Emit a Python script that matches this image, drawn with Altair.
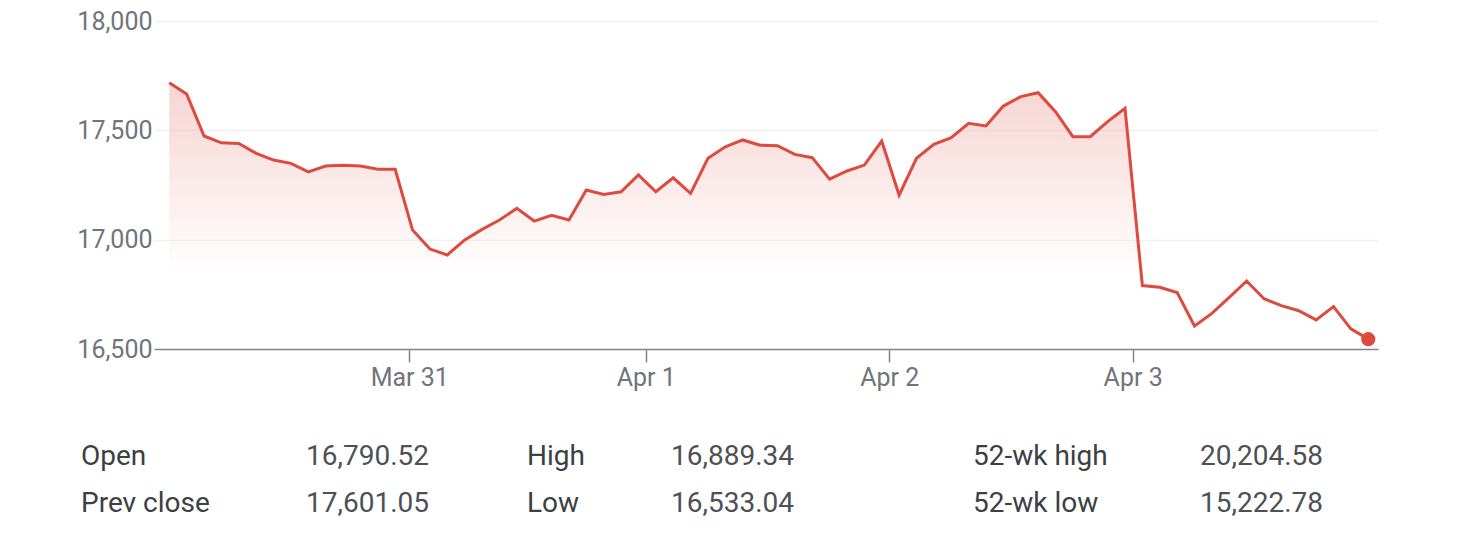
import altair as alt
import pandas as pd

# ---- data ----
prices = [17718, 17666, 17474, 17443, 17440, 17395, 17364, 17349, 17310, 17337,
          17340, 17337, 17322, 17322, 17044, 16957, 16930, 16999, 17047, 17090,
          17143, 17085, 17111, 17090, 17227, 17207, 17219, 17296, 17219, 17283,
          17212, 17372, 17425, 17456, 17432, 17430, 17390, 17375, 17277, 17314,
          17341, 17451, 17204, 17372, 17436, 17466, 17532, 17520, 17611, 17654,
          17672, 17585, 17471, 17471, 17540, 17601, 16790, 16782, 16758, 16605,
          16663, 16736, 16811, 16730, 16698, 16675, 16633, 16694, 16592, 16545]
tick_positions = [13.81, 27.42, 41.43, 55.44]
tick_labels = ["Mar 31", "Apr 1", "Apr 2", "Apr 3"]
y_ticks = [16500, 17000, 17500, 18000]

stat_labels = [["Open", "Prev close"], ["High", "Low"], ["52-wk high", "52-wk low"]]
stat_values = [["16,790.52", "17,601.05"], ["16,889.34", "16,533.04"], ["20,204.58", "15,222.78"]]

df = pd.DataFrame({"i": list(range(len(prices))), "price": prices})

RED = "#dc4b3d"
FONT = "Roboto"

label_expr = " : ".join(
    f"abs(datum.value - {p}) < 0.01 ? '{t}'" for p, t in zip(tick_positions, tick_labels)
) + " : ''"

x_enc = alt.X(
    "i:Q",
    scale=alt.Scale(domain=[-0.88, 69.56], nice=False, zero=False),
    axis=alt.Axis(
        values=tick_positions, labelExpr=label_expr, title=None, grid=False,
        domain=True, domainColor="#80868b", domainWidth=1.5,
        ticks=True, tickColor="#80868b", tickWidth=1.5, tickSize=13,
        labelPadding=3, labelFont=FONT, labelFontSize=25, labelColor="#70757a",
        labelFlush=False,
    ),
)
y_scale = alt.Scale(domain=[16500, 18000], nice=False, zero=False)
y_enc = alt.Y(
    "price:Q",
    scale=y_scale,
    axis=alt.Axis(
        values=y_ticks, format=",d", title=None, grid=True, gridColor="#f1f1f1",
        gridWidth=1.5, domain=False, ticks=False, labelPadding=2,
        labelFont=FONT, labelFontSize=25, labelColor="#70757a",
    ),
)

area = alt.Chart(df).mark_area(
    color=alt.Gradient(
        gradient="linear",
        stops=[
            alt.GradientStop(color="rgba(222,90,80,0.26)", offset=0),
            alt.GradientStop(color="rgba(222,90,80,0.0)", offset=0.72),
        ],
        x1=0, x2=0, y1=0, y2=1,
    )
).encode(x=x_enc, y=y_enc, y2=alt.datum(16500))

line = alt.Chart(df).mark_line(color=RED, strokeWidth=3).encode(
    x=alt.X("i:Q"), y=alt.Y("price:Q")
)

dot = alt.Chart(df).transform_filter(
    alt.datum.i == len(prices) - 1
).mark_circle(color=RED, size=200, opacity=1).encode(
    x=alt.X("i:Q"), y=alt.Y("price:Q")
)

base = alt.layer(area, line, dot)

row_scale = alt.Scale(type="point", domain=[0, 1], range=[444, 491], padding=0)
label_x = [-73, 373, 819]
value_x = [275, 640, 1169]

text_layers = []
for c in range(3):
    tdf = pd.DataFrame({"row": [0, 1], "label": stat_labels[c], "value": stat_values[c]})
    text_layers.append(
        alt.Chart(tdf).mark_text(
            align="left", baseline="alphabetic", font=FONT, fontSize=28, color="#3c4043"
        ).encode(x=alt.value(label_x[c]), y=alt.Y("row:O", scale=row_scale, axis=None), text="label:N")
    )
    text_layers.append(
        alt.Chart(tdf).mark_text(
            align="right", baseline="alphabetic", font=FONT, fontSize=28, color="#4d5156"
        ).encode(x=alt.value(value_x[c]), y=alt.Y("row:O", scale=row_scale, axis=None), text="value:N")
    )

table = alt.layer(*text_layers)

chart = alt.layer(base, table).resolve_scale(y="independent").properties(
    width=1224,
    height=328,
    autosize=alt.AutoSizeParams(type="none"),
    padding={"left": 146, "top": 13, "right": 60, "bottom": 170},
    background="white",
).configure_view(stroke=None)

chart.save("out.html", embed_options={"renderer": "svg", "actions": False})
